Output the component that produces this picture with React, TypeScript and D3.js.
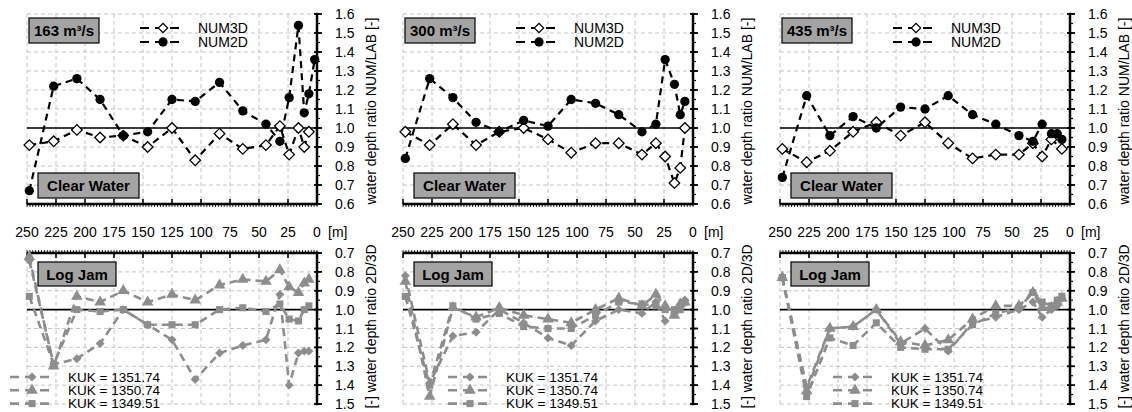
import { useRef, useEffect } from 'react';
import * as d3 from 'd3';

// stations along the reach [m], shared by every series
const STATIONS = [248, 227, 207, 187, 167, 146, 125, 105, 84, 64, 44, 32, 24, 16, 11, 7, 2];

const X_TICKS = [250, 225, 200, 175, 150, 125, 100, 75, 50, 25, 0];
const TOP_TICKS = [0.6, 0.7, 0.8, 0.9, 1.0, 1.1, 1.2, 1.3, 1.4, 1.5, 1.6];
const BOTTOM_TICKS = [0.7, 0.8, 0.9, 1.0, 1.1, 1.2, 1.3, 1.4, 1.5];

const DISCHARGES = ['163 m³/s', '300 m³/s', '435 m³/s'];
const TOP_SERIES = ['NUM3D', 'NUM2D'];
const KUK_LABELS = ['KUK = 1351.74', 'KUK = 1350.74', 'KUK = 1349.51'];

// clear water, NUM/LAB
const NUM3D_163 = [0.91, 0.93, 0.99, 0.95, 0.96, 0.90, 1.00, 0.83, 0.97, 0.89, 0.91, 1.01, 0.86, 1.00, 0.90, 0.98, null];
const NUM2D_163 = [0.67, 1.22, 1.26, 1.15, 0.96, 0.98, 1.15, 1.14, 1.24, 1.09, 1.02, 0.93, 1.16, 1.54, 1.08, 1.18, 1.36];
const NUM3D_300 = [0.98, 0.91, 1.02, 0.91, 0.98, 1.00, 0.94, 0.87, 0.92, 0.92, 0.86, 0.92, 0.85, 0.71, 0.79, 1.00, null];
const NUM2D_300 = [0.84, 1.26, 1.16, 1.03, 0.98, 1.04, 1.01, 1.15, 1.13, 1.07, 0.98, 1.02, 1.36, 1.23, 1.07, 1.14, null];
const NUM3D_435 = [0.89, 0.82, 0.88, 0.98, 1.03, 0.96, 1.03, 0.92, 0.84, 0.86, 0.86, 0.92, 0.85, 0.94, null, 0.89, null];
const NUM2D_435 = [0.74, 1.17, 0.96, 1.06, 1.00, 1.11, 1.10, 1.17, 1.07, 1.02, 0.96, 0.93, 1.02, 0.97, 0.97, 0.94, null];

// log jam, 2D/3D
const K1351_163 = [0.74, 1.29, 1.26, 1.18, 1.00, 1.08, 1.16, 1.37, 1.23, 1.19, 1.16, 0.92, 1.40, 1.23, 1.22, 1.22, null];
const K1350_163 = [0.72, 1.30, 0.93, 0.96, 0.90, 0.96, 0.92, 0.95, 0.87, 0.84, 0.85, 0.79, 0.88, 0.91, 0.86, 0.84, null];
const K1349_163 = [0.93, 1.29, 1.00, 1.01, 1.00, 1.08, 1.08, 1.08, 1.00, 0.99, 1.01, 0.97, 1.05, 1.06, 1.00, 0.98, null];
const K1351_300 = [0.82, 1.39, 1.14, 1.12, 1.00, 1.07, 1.15, 1.19, 1.06, 1.00, 1.02, 0.96, 1.06, 1.02, 0.98, 0.95, null];
const K1350_300 = [0.85, 1.46, 0.99, 1.04, 0.99, 1.03, 1.05, 1.07, 1.00, 0.94, 0.98, 0.92, 0.98, 1.03, 0.97, 0.96, null];
const K1349_300 = [0.93, 1.40, 0.98, 1.05, 1.02, 1.09, 1.10, 1.10, 1.03, 0.96, 0.97, 0.98, 1.00, 1.00, 1.00, 0.96, null];
const K1351_435 = [0.83, 1.41, 1.10, 1.09, 1.00, 1.18, 1.10, 1.22, 1.07, 1.04, 1.00, 0.96, 1.04, 1.00, 0.98, 0.94, null];
const K1350_435 = [0.83, 1.43, 1.10, 1.09, 1.00, 1.17, 1.19, 1.16, 1.05, 0.98, 0.98, 0.91, 0.99, 0.99, 0.96, 0.94, null];
const K1349_435 = [0.83, 1.46, 1.15, 1.19, 1.07, 1.20, 1.21, 1.21, 1.08, 1.02, 0.99, 0.91, 0.96, 0.98, 0.95, 0.93, null];

const TOP_DATA = [[NUM3D_163, NUM2D_163], [NUM3D_300, NUM2D_300], [NUM3D_435, NUM2D_435]];
const BOTTOM_DATA = [
  [K1351_163, K1350_163, K1349_163],
  [K1351_300, K1350_300, K1349_300],
  [K1351_435, K1350_435, K1349_435],
];

const PANEL_LEFT = [27, 403, 780];
const PANEL_W = 290;
const LEGEND_X = [10, 448, 833];
const FONT = '"Liberation Sans", Arial, Helvetica, sans-serif';
const GREY = '#8d8d8d';
const BOX = '#a4a4a4';

type Pt = { m: number; v: number };

function points(vals: (number | null)[]): Pt[] {
  const out: Pt[] = [];
  vals.forEach((v, i) => { if (v != null) out.push({ m: STATIONS[i], v }); });
  return out;
}

export default function App() {
  const svgRef = useRef<SVGSVGElement>(null);

  useEffect(() => {
    const svg = d3.select(svgRef.current);
    svg.selectAll('*').remove();
    svg.attr('font-family', FONT);

    const topY = d3.scaleLinear().domain([0.6, 1.6]).range([204, 14]);
    const botY = d3.scaleLinear().domain([0.7, 1.5]).range([253, 404]);

    const openDiamond = d3.symbol().type(d3.symbolSquare).size(56);
    const circle = d3.symbol().type(d3.symbolCircle).size(68);
    const greyDiamond = d3.symbol().type(d3.symbolSquare).size(40);
    const tri = d3.symbol().type(d3.symbolTriangle).size(58);
    const square = d3.symbol().type(d3.symbolSquare).size(50);
    const botSym = [greyDiamond, tri, square];

    const label = (g: any, x0: number, y0: number, w: number, h: number, text: string) => {
      g.append('rect').attr('x', x0).attr('y', y0).attr('width', w).attr('height', h)
        .attr('fill', BOX).attr('stroke', '#000').attr('stroke-width', 1.2);
      g.append('text').attr('x', x0 + w / 2).attr('y', y0 + h / 2 + 5.5)
        .attr('text-anchor', 'middle').attr('font-size', 15).attr('font-weight', 'bold')
        .text(text);
    };

    PANEL_LEFT.forEach((left, i) => {
      const right = left + PANEL_W;
      const g = svg.append('g');
      const x = d3.scaleLinear().domain([250, 0]).range([left, right]);

      // grids
      TOP_TICKS.filter(t => t > 0.6).forEach(t => {
        g.append('line').attr('x1', left).attr('x2', right).attr('y1', topY(t)).attr('y2', topY(t))
          .attr('stroke', '#c4c4c4').attr('stroke-dasharray', '4,3');
      });
      BOTTOM_TICKS.filter(t => t > 0.7).forEach(t => {
        g.append('line').attr('x1', left).attr('x2', right).attr('y1', botY(t)).attr('y2', botY(t))
          .attr('stroke', '#c4c4c4').attr('stroke-dasharray', '4,3');
      });
      X_TICKS.filter(t => t > 0).forEach(t => {
        g.append('line').attr('x1', x(t)).attr('x2', x(t)).attr('y1', topY(1.6)).attr('y2', topY(0.6))
          .attr('stroke', '#c4c4c4').attr('stroke-dasharray', '4,3');
        g.append('line').attr('x1', x(t)).attr('x2', x(t)).attr('y1', botY(0.7)).attr('y2', botY(1.5))
          .attr('stroke', '#c4c4c4').attr('stroke-dasharray', '4,3');
      });

      // horizontal axes (shared stationing)
      const minor = d3.range(0, 250.1, 2.5);
      g.append('line').attr('x1', left).attr('x2', right).attr('y1', topY(0.6)).attr('y2', topY(0.6))
        .attr('stroke', '#000').attr('stroke-width', 2.5);
      g.append('line').attr('x1', left).attr('x2', right).attr('y1', botY(0.7)).attr('y2', botY(0.7))
        .attr('stroke', '#000').attr('stroke-width', 2.5);
      minor.forEach(m => {
        g.append('line').attr('x1', x(m)).attr('x2', x(m)).attr('y1', topY(0.6)).attr('y2', topY(0.6) + 2.8)
          .attr('stroke', '#000').attr('stroke-width', 1);
        g.append('line').attr('x1', x(m)).attr('x2', x(m)).attr('y1', botY(0.7)).attr('y2', botY(0.7) - 2.8)
          .attr('stroke', '#000').attr('stroke-width', 1);
      });
      X_TICKS.forEach(t => {
        g.append('line').attr('x1', x(t)).attr('x2', x(t)).attr('y1', topY(0.6)).attr('y2', topY(0.6) - 5)
          .attr('stroke', '#000').attr('stroke-width', 1.6);
        g.append('line').attr('x1', x(t)).attr('x2', x(t)).attr('y1', botY(0.7)).attr('y2', botY(0.7) + 5)
          .attr('stroke', '#000').attr('stroke-width', 1.6);
        g.append('text').attr('x', x(t)).attr('y', 237).attr('text-anchor', 'middle')
          .attr('font-size', 14).text(t);
      });
      g.append('text').attr('x', x(0) + 11).attr('y', 237).attr('font-size', 14).text('[m]');

      // right axes
      const rightAxis = (y: d3.ScaleLinear<number, number>, ticks: number[]) => {
        const [lo, hi] = y.domain();
        g.append('line').attr('x1', right).attr('x2', right).attr('y1', y(lo)).attr('y2', y(hi))
          .attr('stroke', '#000').attr('stroke-width', 2.5).attr('stroke-linecap', 'square');
        d3.range(lo, hi + 0.001, 0.05).forEach(t => {
          g.append('line').attr('x1', right).attr('x2', right + 3).attr('y1', y(t)).attr('y2', y(t))
            .attr('stroke', '#000').attr('stroke-width', 1.2);
        });
        ticks.forEach(t => {
          g.append('line').attr('x1', right - 3).attr('x2', right + 5).attr('y1', y(t)).attr('y2', y(t))
            .attr('stroke', '#000').attr('stroke-width', 1.8);
          g.append('text').attr('x', right + 18).attr('y', y(t) + 5).attr('font-size', 14)
            .text(t.toFixed(1));
        });
      };
      rightAxis(topY, TOP_TICKS);
      rightAxis(botY, BOTTOM_TICKS);

      g.append('text').attr('transform', `translate(${right + 59},${(topY(0.6) + topY(1.6)) / 2 + 2}) rotate(-90)`)
        .attr('text-anchor', 'middle').attr('font-size', 14).text('water depth ratio NUM/LAB [-]');
      g.append('text').attr('transform', `translate(${right + 59},${(botY(0.7) + botY(1.5)) / 2 - 2}) rotate(-90)`)
        .attr('text-anchor', 'middle').attr('font-size', 14).text('[-] water depth ratio 2D/3D');

      // reference lines
      g.append('line').attr('x1', left).attr('x2', right).attr('y1', topY(1)).attr('y2', topY(1))
        .attr('stroke', '#000').attr('stroke-width', 1.6);
      g.append('line').attr('x1', left).attr('x2', right).attr('y1', botY(1)).attr('y2', botY(1))
        .attr('stroke', '#000').attr('stroke-width', 1.6);

      // log jam series (grey)
      const botLine = d3.line<Pt>().x(d => x(d.m)).y(d => botY(d.v));
      BOTTOM_DATA[i].forEach((vals, k) => {
        const pts = points(vals);
        g.append('path').datum(pts).attr('d', botLine).attr('fill', 'none')
          .attr('stroke', GREY).attr('stroke-width', 2.6).attr('stroke-dasharray', '8,5');
        pts.forEach(p => {
          g.append('path').attr('d', botSym[k]()!)
            .attr('transform', `translate(${x(p.m)},${botY(p.v)})${k === 0 ? ' rotate(45)' : ''}`)
            .attr('fill', GREY);
        });
      });

      // clear water series (black)
      const topLine = d3.line<Pt>().x(d => x(d.m)).y(d => topY(d.v));
      TOP_DATA[i].forEach(vals => {
        g.append('path').datum(points(vals)).attr('d', topLine).attr('fill', 'none')
          .attr('stroke', '#000').attr('stroke-width', 2.2).attr('stroke-dasharray', '7,5');
      });
      TOP_DATA[i].forEach((vals, k) => {
        points(vals).forEach(p => {
          if (k === 0) {
            g.append('path').attr('d', openDiamond()!)
              .attr('transform', `translate(${x(p.m)},${topY(p.v)}) rotate(45)`)
              .attr('fill', '#fff').attr('stroke', '#000').attr('stroke-width', 1.3);
          } else {
            g.append('path').attr('d', circle()!)
              .attr('transform', `translate(${x(p.m)},${topY(p.v)})`).attr('fill', '#000');
          }
        });
      });

      // boxes
      label(g, left + 2, 18, 70, 25, DISCHARGES[i]);
      label(g, left + 11, 173, 101, 25, 'Clear Water');
      label(g, left + 11, 262, 78, 24, 'Log Jam');

      // top legend
      TOP_SERIES.forEach((name, k) => {
        const ly = 28 + k * 14;
        const lx = left + 113;
        g.append('line').attr('x1', lx).attr('x2', lx + 43).attr('y1', ly).attr('y2', ly)
          .attr('stroke', '#000').attr('stroke-width', 2.2).attr('stroke-dasharray', '9,6');
        if (k === 0) {
          g.append('path').attr('d', openDiamond.size(44)()!)
            .attr('transform', `translate(${lx + 23},${ly}) rotate(45)`)
            .attr('fill', '#fff').attr('stroke', '#000').attr('stroke-width', 1.2);
          openDiamond.size(56);
        } else {
          g.append('path').attr('d', circle()!).attr('transform', `translate(${lx + 23},${ly})`).attr('fill', '#000');
        }
        g.append('text').attr('x', lx + 58).attr('y', ly + 5).attr('font-size', 14).text(name);
      });

      // bottom legend
      KUK_LABELS.forEach((name, k) => {
        const ly = 377 + k * 13.3;
        const lx = LEGEND_X[i];
        g.append('line').attr('x1', lx).attr('x2', lx + 42).attr('y1', ly).attr('y2', ly)
          .attr('stroke', GREY).attr('stroke-width', 2.6).attr('stroke-dasharray', '9,6');
        g.append('path').attr('d', botSym[k]()!)
          .attr('transform', `translate(${lx + 22},${ly})${k === 0 ? ' rotate(45)' : ''}`)
          .attr('fill', GREY);
        g.append('text').attr('x', lx + 58).attr('y', ly + 4.5).attr('font-size', 13.5).text(name);
      });
    });
  }, []);

  return (
    <svg ref={svgRef} width={1132} height={412}
      style={{ display: 'block', position: 'absolute', left: 0, top: 0, background: '#fff' }} />
  );
}
